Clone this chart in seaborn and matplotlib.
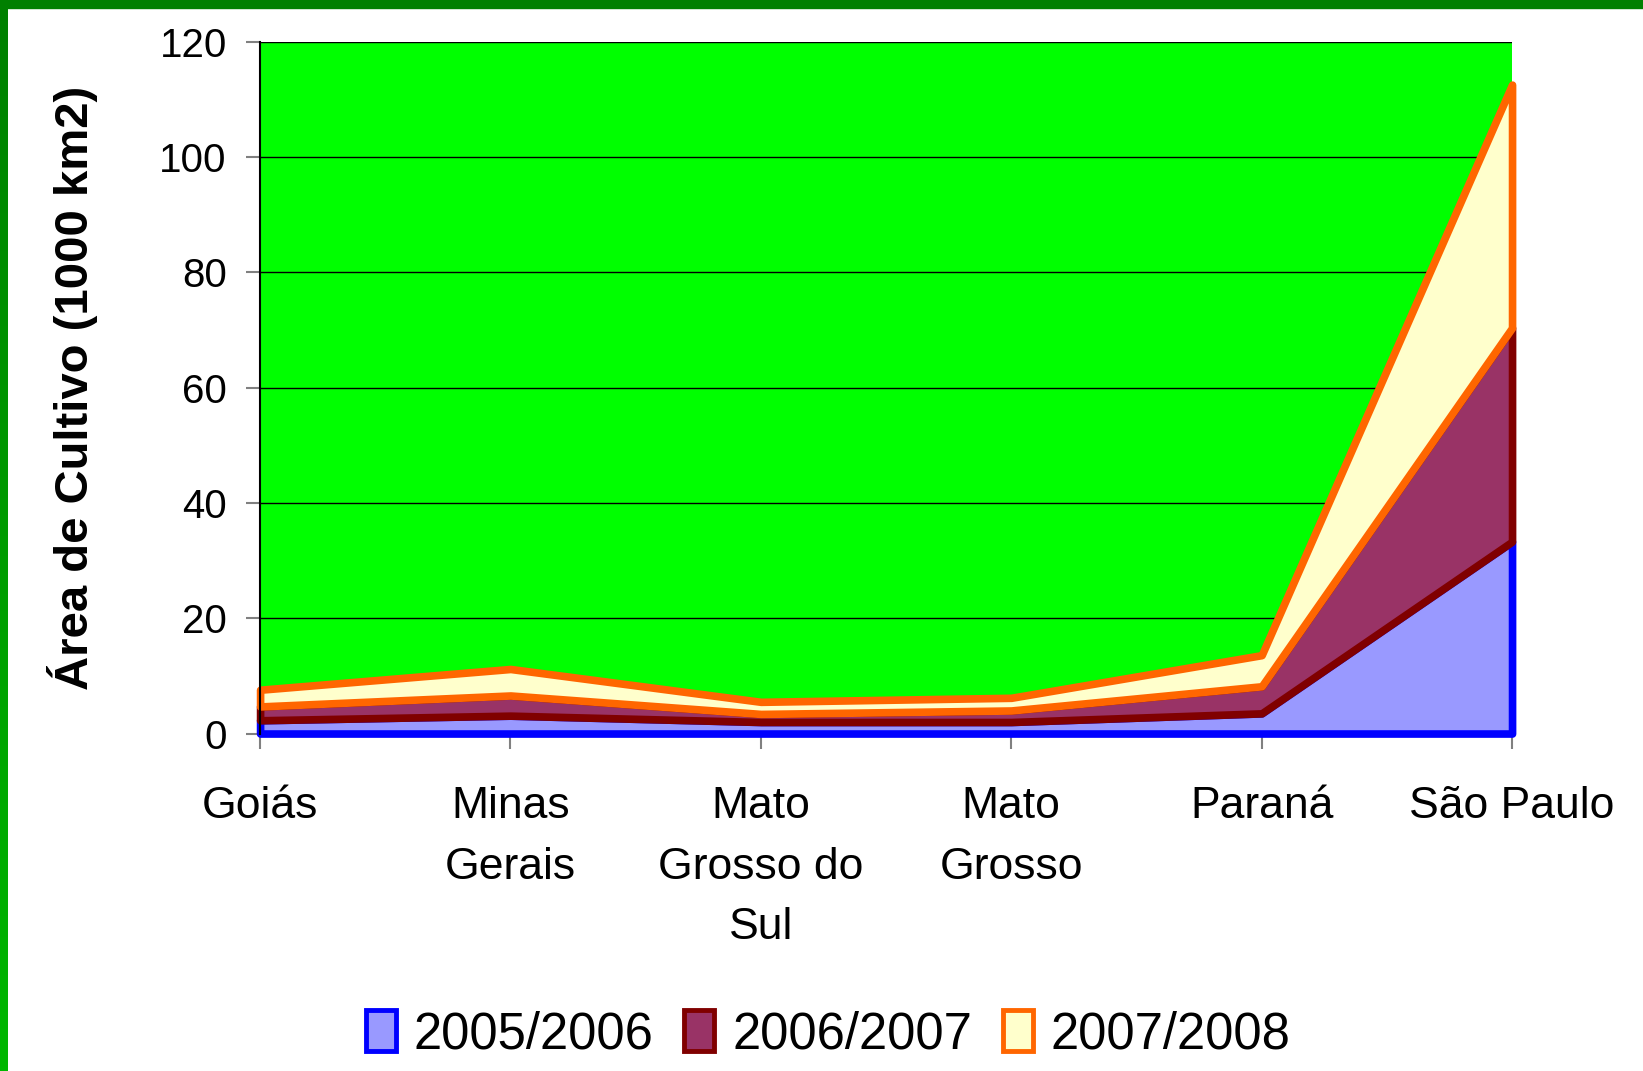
import numpy as np
import pandas as pd
import matplotlib
matplotlib.use("Agg")
import matplotlib.pyplot as plt
from matplotlib.patches import Patch, Rectangle
import seaborn as sns

# data (1000 km2, per season, stacked)
estados = ["Goiás", "Minas\nGerais", "Mato\nGrosso do\nSul", "Mato\nGrosso", "Paraná", "São Paulo"]
safras = ["2005/2006", "2006/2007", "2007/2008"]
area_0506 = [2.3, 3.1, 2.0, 2.0, 3.5, 33.3]
area_0607 = [2.4, 3.5, 1.4, 2.0, 4.7, 37.1]
area_0708 = [2.9, 4.6, 2.1, 2.2, 5.4, 42.2]
yticks = [0, 20, 40, 60, 80, 100, 120]

faces = ["#9999FF", "#993366", "#FFFFCC"]
edges = ["#0000FF", "#800000", "#FF6600"]

df = pd.DataFrame({"estado": estados,
                   safras[0]: area_0506,
                   safras[1]: area_0607,
                   safras[2]: area_0708})

sns.set_style("white")
plt.rcParams["font.family"] = ["Liberation Sans", "DejaVu Sans"]
plt.rcParams["text.color"] = "black"
plt.rcParams["xtick.labelcolor"] = "black"
plt.rcParams["ytick.labelcolor"] = "black"
plt.rcParams["axes.labelcolor"] = "black"

fig = plt.figure(figsize=(16.43, 10.71), dpi=100)
ax = fig.add_axes([0.1583, 0.3151, 0.9203 - 0.1583, 0.9608 - 0.3151])
ax.set_facecolor("#00FF00")

x = np.arange(len(estados))
polys = ax.stackplot(x, [df[s] for s in safras], colors=faces, zorder=2)
for p, e in zip(polys, edges):
    p.set_edgecolor(e)
    p.set_linewidth(5.5)
    p.set_joinstyle("round")
    p.set_clip_on(False)

ax.set_xlim(0, len(estados) - 1)
ax.set_ylim(0, 120)
ax.set_yticks(yticks)
ax.set_xticks(x)
ax.set_xticklabels(estados, fontsize=32, linespacing=1.6)
ax.tick_params(axis="y", labelsize=29, length=10, width=1.5, color="#808080",
               direction="out", left=True, pad=14)
ax.tick_params(axis="x", length=11, width=1.5, color="#808080",
               direction="out", bottom=True, pad=27)
for lbl in ax.get_xticklabels():
    lbl.set_verticalalignment("top")

ax.grid(axis="y", color="black", linewidth=1.0)
ax.grid(axis="x", visible=False)
ax.set_axisbelow(True)
for side in ["top", "right", "bottom"]:
    ax.spines[side].set_visible(False)
ax.spines["left"].set_color("black")
ax.spines["left"].set_linewidth(1.5)

ax.set_ylabel("Área de Cultivo (1000 km2)", fontsize=34, fontweight="bold",
              labelpad=44)

handles = [Patch(facecolor=f, edgecolor=e, linewidth=3.5, label=s)
           for f, e, s in zip(faces, edges, safras)]
fig.legend(handles=handles, loc="center", bbox_to_anchor=(0.504, 0.034),
           ncol=3, frameon=False, fontsize=36.5, handlelength=0.6,
           handleheight=0.85, handletextpad=0.35, columnspacing=0.6)

# green frame at the top and left of the slide
fig.patches.append(Rectangle((0, 1 - 8 / 1071), 1, 8 / 1071,
                             transform=fig.transFigure, color="#008000",
                             zorder=10))
strip = fig.add_axes([0, 0, 8 / 1643, 1])
grad = np.linspace(0, 1, 256).reshape(-1, 1)
strip.imshow(grad, aspect="auto",
             cmap=matplotlib.colors.LinearSegmentedColormap.from_list(
                 "g", ["#00B800", "#008000"]),
             origin="lower")
strip.axis("off")

fig.savefig("out.png", dpi=100, facecolor="white")
